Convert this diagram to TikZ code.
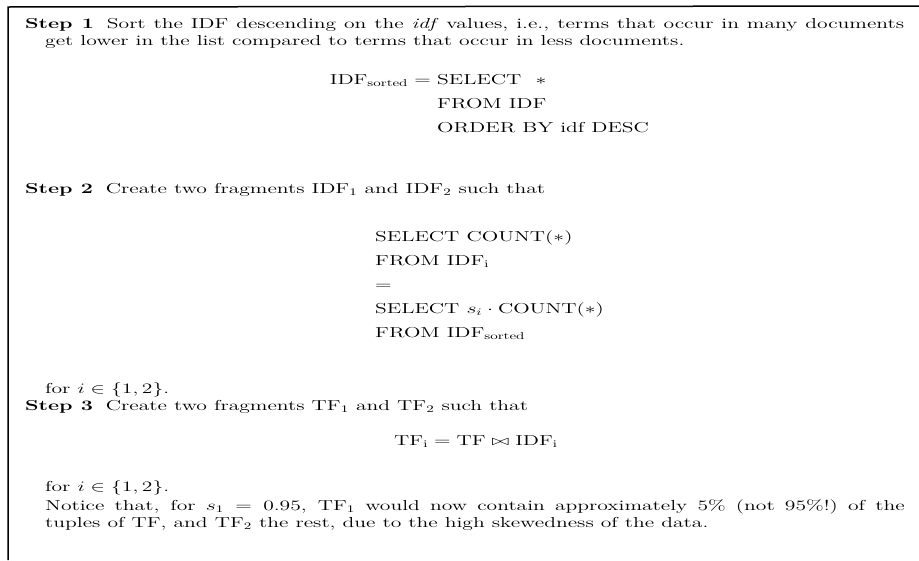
\documentclass[tikz,border=0pt]{standalone}
\usepackage{amsmath,amssymb}
\usepackage{graphicx}
\usetikzlibrary{positioning}

% gescannter Satz ist in x-Richtung gestreckt
\newcommand{\stretched}[1]{\scalebox{1.5}[1]{#1}}
\newcommand{\stepname}[1]{\textbf{Step #1}\hspace{0.6em}}
\tikzset{
  txt/.style={anchor=base west, inner sep=0pt, font=\fontsize{14.4}{17}\selectfont},
  frame/.style={line width=1.5pt}
}

\begin{document}
\begin{tikzpicture}[x=1pt,y=-1pt]
\useasboundingbox (0,0) rectangle (919,560);
%Rahmen
\coordinate (tl) at (8,7);
\coordinate (tr) at (919,6);
\coordinate (bl) at (8,560);
\draw[frame] (tr) -- (tl) -- (bl);
%Step 1
\node[txt] (s1a) at (25,28) {\stretched{\makebox[586pt][s]{\stepname{1}Sort the IDF descending on the \emph{idf} values, i.e., terms that occur in many documents}}};
\node[txt] (s1b) at (45,45) {\stretched{get lower in the list compared to terms that occur in less documents.}};
\node[txt, anchor=base east] (lhs1) at (431,84) {\stretched{$\mathrm{IDF}_{\mathrm{sorted}} =$}};
\node[txt] (sel1) at (437,84) {\stretched{SELECT\ \ $*$}};
\node[txt] (from1) at (437,108) {\stretched{FROM IDF}};
\node[txt] (ord1) at (437,132) {\stretched{ORDER BY idf DESC}};
%Step 2
\node[txt] (s2) at (25,193) {\stretched{\stepname{2}Create two fragments $\mathrm{IDF}_1$ and $\mathrm{IDF}_2$ such that}};
\node[txt] (cnt1) at (375,241) {\stretched{SELECT COUNT($*$)}};
\node[txt] (from2) at (375,265) {\stretched{FROM $\mathrm{IDF}_{\mathrm{i}}$}};
\node[txt] (eq2) at (375,289) {\stretched{$=$}};
\node[txt] (cnt2) at (375,313) {\stretched{SELECT $s_i\cdot{}$COUNT($*$)}};
\node[txt] (from3) at (375,337) {\stretched{FROM $\mathrm{IDF}_{\mathrm{sorted}}$}};
\node[txt] (for2) at (45,393) {\stretched{for $i \in \{1,2\}$.}};
%Step 3
\node[txt] (s3) at (25,410) {\stretched{\stepname{3}Create two fragments $\mathrm{TF}_1$ and $\mathrm{TF}_2$ such that}};
\node[txt, anchor=base] (tfeq) at (476,445) {\stretched{$\mathrm{TF}_{\mathrm{i}} = \mathrm{TF} \bowtie \mathrm{IDF}_{\mathrm{i}}$}};
\node[txt] (for3) at (45,491) {\stretched{for $i \in \{1,2\}$.}};
\node[txt] (note1) at (45,510) {\stretched{\makebox[573pt][s]{Notice that, for $s_1 = 0.95$, $\mathrm{TF}_1$ would now contain approximately 5\% (not 95\%!)\ of the}}};
\node[txt] (note2) at (45,527) {\stretched{tuples of TF, and $\mathrm{TF}_2$ the rest, due to the high skewedness of the data.}};
\end{tikzpicture}
\end{document}
